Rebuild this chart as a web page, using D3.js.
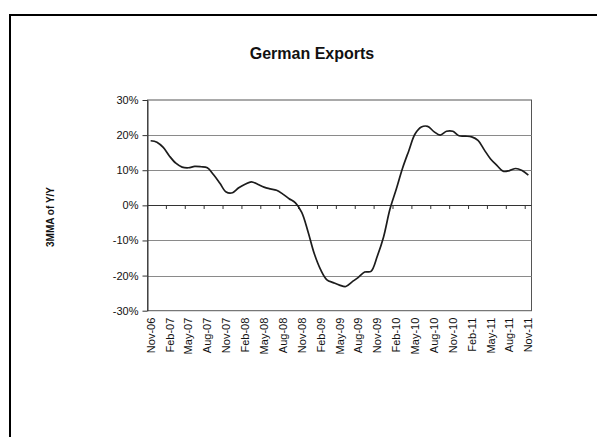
<!DOCTYPE html>
<html>
<head>
<meta charset="utf-8">
<script src="https://cdn.jsdelivr.net/npm/d3@7/dist/d3.min.js"></script>
<style>
  html, body { margin: 0; padding: 0; background: #fff; }
  svg { display: block; font-family: Arial, "Liberation Sans", sans-serif; }
</style>
</head>
<body>
<svg id="chart" width="597" height="437"></svg>
<script>
// Monthly categories, Nov-06 through Nov-11
const months = [
  "Nov-06","Dec-06","Jan-07","Feb-07","Mar-07","Apr-07","May-07","Jun-07","Jul-07","Aug-07","Sep-07","Oct-07",
  "Nov-07","Dec-07","Jan-08","Feb-08","Mar-08","Apr-08","May-08","Jun-08","Jul-08","Aug-08","Sep-08","Oct-08",
  "Nov-08","Dec-08","Jan-09","Feb-09","Mar-09","Apr-09","May-09","Jun-09","Jul-09","Aug-09","Sep-09","Oct-09",
  "Nov-09","Dec-09","Jan-10","Feb-10","Mar-10","Apr-10","May-10","Jun-10","Jul-10","Aug-10","Sep-10","Oct-10",
  "Nov-10","Dec-10","Jan-11","Feb-11","Mar-11","Apr-11","May-11","Jun-11","Jul-11","Aug-11","Sep-11","Oct-11",
  "Nov-11"
];

// 3-month moving average of year-over-year export growth, in percent
const exportsYoY = [
  18.4, 18.0, 16.5, 14.0, 12.0, 10.9, 10.7, 11.1, 11.0, 10.7, 8.7, 6.3,
  3.8, 3.6, 5.0, 6.0, 6.7, 6.0, 5.2, 4.7, 4.3, 3.2, 1.9, 0.7,
  -2.0, -7.5, -13.8, -18.3, -21.2, -22.0, -22.7, -23.1, -21.8, -20.5, -19.0, -18.8,
  -14.5, -9.0, -1.2, 4.5, 10.5, 15.5, 20.3, 22.3, 22.5, 21.0, 20.0, 21.1,
  21.1, 19.8, 19.7, 19.5, 18.5, 15.8, 13.2, 11.4, 9.7, 9.9, 10.5, 9.9,
  8.6
];

// Axis ticks
const xTickLabels = ["Nov-06","Feb-07","May-07","Aug-07","Nov-07","Feb-08","May-08","Aug-08","Nov-08",
  "Feb-09","May-09","Aug-09","Nov-09","Feb-10","May-10","Aug-10","Nov-10","Feb-11","May-11","Aug-11","Nov-11"];
const yTicks = [-30, -20, -10, 0, 10, 20, 30];

const titleText = "German Exports";
const yTitleText = "3MMA of Y/Y";

const svg = d3.select("#chart");

// Outer frame (left and top edges)
svg.append("path")
  .attr("d", "M10,437 L10,15 L597,15")
  .attr("fill", "none")
  .attr("stroke", "#000")
  .attr("stroke-width", 2);

const plot = { left: 147.5, right: 531.5, top: 100, bottom: 310.7 };

const x = d3.scaleBand().domain(months).range([plot.left, plot.right]).padding(0);
const y = d3.scaleLinear().domain([-30, 30]).range([plot.bottom, plot.top]);
const cx = m => x(m) + x.bandwidth() / 2;

// Plot border
svg.append("rect")
  .attr("x", plot.left).attr("y", plot.top)
  .attr("width", plot.right - plot.left).attr("height", plot.bottom - plot.top)
  .attr("fill", "none").attr("stroke", "#555").attr("stroke-width", 1);

// Horizontal gridlines
svg.append("g")
  .selectAll("line")
  .data(yTicks.filter(v => v !== 0 && Math.abs(v) !== 30))
  .join("line")
  .attr("x1", plot.left).attr("x2", plot.right)
  .attr("y1", d => Math.round(y(d)) + 0.5).attr("y2", d => Math.round(y(d)) + 0.5)
  .attr("stroke", "#8a8a8a").attr("stroke-width", 1);

// Y axis
const yAxis = svg.append("g")
  .attr("transform", `translate(${plot.left},0)`)
  .call(d3.axisLeft(y).tickValues(yTicks).tickFormat(d => d + "%").tickSize(5).tickSizeOuter(0).tickPadding(4));
yAxis.select(".domain").attr("stroke", "#333");
yAxis.selectAll(".tick line").attr("stroke", "#333");
yAxis.selectAll(".tick text").attr("font-size", 11).attr("fill", "#111").attr("font-family", "Arial, 'Liberation Sans', sans-serif");

// Category axis along the zero line
const y0 = Math.round(y(0)) + 0.5;
svg.append("line")
  .attr("x1", plot.left).attr("x2", plot.right)
  .attr("y1", y0).attr("y2", y0)
  .attr("stroke", "#333").attr("stroke-width", 1);

const tickIdx = d3.range(0, months.length, 3);
svg.append("g")
  .selectAll("line")
  .data(tickIdx)
  .join("line")
  .attr("x1", i => x(months[i])).attr("x2", i => x(months[i]))
  .attr("y1", y0).attr("y2", y0 + 3.5)
  .attr("stroke", "#333").attr("stroke-width", 1);

// Category labels, rotated, hanging below the plot
svg.append("g")
  .selectAll("text")
  .data(xTickLabels)
  .join("text")
  .attr("transform", d => `translate(${cx(d) + 4},${plot.bottom + 7}) rotate(-90)`)
  .attr("text-anchor", "end")
  .attr("font-size", 11)
  .attr("fill", "#111")
  .text(d => d);

// Series line
const line = d3.line()
  .x((d, i) => cx(months[i]))
  .y(d => y(d))
  .curve(d3.curveCatmullRom.alpha(0.5));

svg.append("path")
  .datum(exportsYoY)
  .attr("d", line)
  .attr("fill", "none")
  .attr("stroke", "#1c1c1c")
  .attr("stroke-width", 1.7)
  .attr("stroke-linejoin", "round");

// Titles
svg.append("text")
  .attr("x", 312).attr("y", 59)
  .attr("text-anchor", "middle")
  .attr("font-size", 16).attr("font-weight", "bold")
  .attr("fill", "#111")
  .text(titleText);

svg.append("text")
  .attr("transform", `translate(54,217) rotate(-90)`)
  .attr("text-anchor", "middle")
  .attr("font-size", 10).attr("font-weight", "bold")
  .attr("fill", "#111")
  .text(yTitleText);
</script>
</body>
</html>
